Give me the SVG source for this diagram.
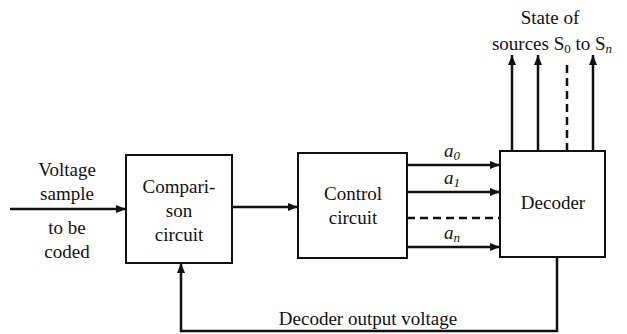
<svg xmlns="http://www.w3.org/2000/svg" width="627" height="334" viewBox="0 0 627 334">
<style>
text{font-family:"Liberation Serif","DejaVu Serif","Times New Roman",serif;font-size:19px;fill:#111;text-anchor:middle}
.box{fill:#fff;stroke:#111;stroke-width:2}
.ln{fill:none;stroke:#111;stroke-width:2.5}
.dash{stroke-dasharray:8,5}
.it{font-style:italic}
.sub{font-size:13px}
</style>
<defs>
<marker id="ah" viewBox="0 0 10 10" refX="10" refY="5" markerWidth="4" markerHeight="4" orient="auto" markerUnits="strokeWidth">
<path d="M0,1 L10,5 L0,9 z" fill="#111"/>
</marker>
</defs>
<rect width="627" height="334" fill="#fff"/>
<g id="connectors">
<line class="ln" x1="10" y1="209" x2="126" y2="209" marker-end="url(#ah)"/>
<line class="ln" x1="232" y1="207" x2="298" y2="207" marker-end="url(#ah)"/>
<line class="ln" x1="407" y1="165" x2="500" y2="165" marker-end="url(#ah)"/>
<line class="ln" x1="407" y1="192" x2="500" y2="192" marker-end="url(#ah)"/>
<line class="ln dash" x1="407" y1="218" x2="500" y2="218"/>
<line class="ln" x1="407" y1="247" x2="500" y2="247" marker-end="url(#ah)"/>
<line class="ln" x1="512" y1="151" x2="512" y2="55" marker-end="url(#ah)"/>
<line class="ln" x1="538" y1="151" x2="538" y2="55" marker-end="url(#ah)"/>
<line class="ln dash" x1="567" y1="151" x2="567" y2="62"/>
<line class="ln" x1="593" y1="151" x2="593" y2="55" marker-end="url(#ah)"/>
<polyline class="ln" points="557,257 557,331 181,331 181,263" marker-end="url(#ah)"/>
<text x="452" y="157" class="it">a<tspan class="sub" dy="3">0</tspan></text>
<text x="452" y="184" class="it">a<tspan class="sub" dy="3">1</tspan></text>
<text x="452" y="239" class="it">a<tspan class="sub" dy="3">n</tspan></text>
<text x="368" y="325">Decoder output voltage</text>
<text x="67" y="176">Voltage</text>
<text x="67" y="200">sample</text>
<text x="67" y="234">to be</text>
<text x="67" y="258">coded</text>
<text x="550" y="24">State of</text>
<text x="552" y="50">sources S<tspan class="sub" dy="3">0</tspan><tspan dy="-3"> to S</tspan><tspan class="sub it" dy="3">n</tspan></text>
</g>
<g id="comparison">
<rect class="box" x="126" y="155" width="106" height="108"/>
<text x="179" y="193">Compari-</text>
<text x="179" y="217">son</text>
<text x="179" y="241">circuit</text>
</g>
<g id="control">
<rect class="box" x="298" y="153" width="109" height="105"/>
<text x="353" y="200">Control</text>
<text x="353" y="224">circuit</text>
</g>
<g id="decoder">
<rect class="box" x="500" y="151" width="105" height="106"/>
<text x="553" y="209">Decoder</text>
</g>
</svg>
